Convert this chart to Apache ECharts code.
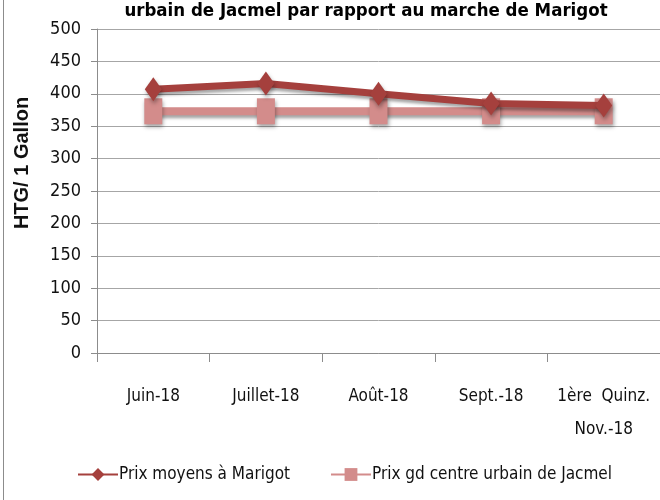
<!DOCTYPE html>
<html>
<head>
<meta charset="utf-8">
<script src="https://cdn.jsdelivr.net/npm/echarts@6/dist/echarts.min.js"></script>
<style>
  html, body { margin: 0; padding: 0; background: #fff; }
  #chart { width: 660px; height: 500px; }
</style>
</head>
<body>
<div id="chart"></div>
<script>
const categories = ['Juin-18', 'Juillet-18', 'Août-18', 'Sept.-18', '1ère  Quinz.\nNov.-18']
const marigot = [407, 416, 400, 385, 382]
const jacmel = [373, 373, 373, 373, 373]
const yTicks = { min: 0, max: 500, interval: 50 }

const font = '"DejaVu Sans Condensed", "Liberation Sans", sans-serif'
const chart = echarts.init(document.getElementById('chart'))

const markerShadow = {
  shadowBlur: 4,
  shadowOffsetX: 1,
  shadowOffsetY: 3,
  shadowColor: 'rgba(0, 0, 0, 0.35)'
}

const option = {
  backgroundColor: '#fff',
  animation: false,
  title: {
    text: 'urbain de Jacmel par rapport au marche de Marigot',
    left: 361,
    textAlign: 'center',
    top: -3,
    textStyle: { fontFamily: font, fontSize: 18.5, fontWeight: 'bold', color: '#000' }
  },
  grid: { left: 97, right: -5, top: 29, bottom: 147 },
  legend: {
    bottom: 12,
    left: 72,
    itemWidth: 40,
    itemHeight: 16,
    itemGap: 40,
    textStyle: { fontFamily: font, fontSize: 17, color: '#111', padding: [0, 0, 0, -4] },
    data: ['Prix moyens à Marigot', 'Prix gd centre urbain de Jacmel']
  },
  xAxis: {
    type: 'category',
    data: categories,
    boundaryGap: true,
    axisLine: { lineStyle: { color: '#8c8c8c', width: 1 } },
    axisTick: { show: true, length: 9, alignWithLabel: false, lineStyle: { color: '#8c8c8c' } },
    axisLabel: {
      interval: 0,
      margin: 27,
      fontFamily: font,
      fontSize: 17,
      color: '#111',
      lineHeight: 33,
      verticalAlign: 'top'
    }
  },
  yAxis: {
    type: 'value',
    min: yTicks.min,
    max: yTicks.max,
    interval: yTicks.interval,
    axisLine: { show: true, lineStyle: { color: '#8c8c8c', width: 1 } },
    axisTick: { show: true, length: 6, lineStyle: { color: '#8c8c8c' } },
    splitLine: { lineStyle: { color: '#a6a6a6', width: 1 } },
    axisLabel: { margin: 16, fontFamily: font, fontSize: 18, color: '#111' }
  },
  graphic: [
    {
      type: 'line',
      shape: { x1: 3.5, y1: 0, x2: 3.5, y2: 500 },
      style: { stroke: '#8c8c8c', lineWidth: 1 }
    },
    {
      type: 'text',
      x: 22,
      y: 163,
      rotation: Math.PI / 2,
      style: {
        text: 'HTG/ 1 Gallon',
        fontFamily: '"Liberation Sans", Arial, sans-serif',
        fontSize: 20,
        fontWeight: 'bold',
        fill: '#111',
        align: 'center',
        verticalAlign: 'middle'
      }
    }
  ],
  series: [
    {
      name: 'Prix gd centre urbain de Jacmel',
      type: 'line',
      data: jacmel,
      symbol: 'rect',
      symbolSize: [18, 26],
      lineStyle: { color: '#d38c8b', width: 8, ...markerShadow, shadowBlur: 3 },
      itemStyle: { color: '#d38c8b', ...markerShadow },
      z: 2
    },
    {
      name: 'Prix moyens à Marigot',
      type: 'line',
      data: marigot,
      symbol: 'diamond',
      symbolSize: [17, 24],
      lineStyle: { color: '#a5403d', width: 7, ...markerShadow, shadowBlur: 3 },
      itemStyle: { color: '#a5403d', ...markerShadow },
      z: 3
    }
  ]
}

chart.setOption(option)
</script>
</body>
</html>
